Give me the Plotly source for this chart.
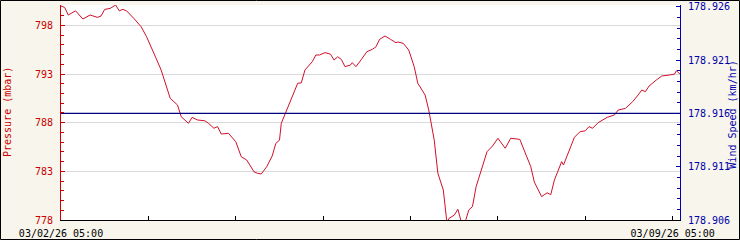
import pandas as pd
import plotly.graph_objects as go

# ---- data ----
start_time = "2026-03-02 05:00"
end_hours = 170

hours = [0, 1, 2, 4, 6, 8, 10, 11, 12, 13.5,
         15, 16, 17, 18, 20, 22, 23.5, 25, 26, 27.5,
         28.5, 30, 31, 32, 33, 35, 36, 37.5, 39.5, 40.5,
         42, 43, 44, 46, 48, 49.5, 51, 53, 54, 55,
         56.5, 58, 59, 60, 60.5, 62, 63.5, 65, 66, 67,
         69, 70, 71, 72.5, 74, 75, 76, 77, 78, 79.5,
         80, 81, 82.5, 84, 85.5, 86.5, 87.5, 89, 90.5, 92,
         92.5, 94, 95.5, 97, 98, 100, 101, 102.5, 103.5, 105,
         106, 106.5, 108, 109, 110, 111, 112, 113, 114, 115.5,
         117, 118.5, 120, 122, 123.5, 126, 127.5, 129, 130, 132,
         133.5, 134.5, 135.5, 137.5, 138, 139.5, 141, 142.5, 144, 145,
         146, 147.5, 150, 152, 153, 155, 157, 158.5, 159.5, 160.5,
         161.5, 163.5, 165, 167, 168.5, 169, 170]

pressure = [800.0, 799.85, 799.07, 799.5, 798.66, 799.07, 798.83, 798.97, 799.65, 799.75,
            800.1, 799.5, 799.65, 799.5, 798.73, 797.87, 796.84, 795.47, 794.72, 793.42,
            792.21, 790.5, 790.16, 789.82, 788.62, 787.94, 788.55, 788.28, 788.2, 787.94,
            787.43, 787.6, 786.84, 786.91, 786.05, 784.5, 784.17, 782.96, 782.8, 782.73,
            783.48, 784.58, 785.88, 786.2, 787.94, 789.3, 790.85, 792.05, 792.1, 793.42,
            794.27, 794.96, 794.96, 795.2, 795.05, 794.44, 794.78, 794.5, 793.76, 793.93,
            794.17, 793.76, 794.51, 795.3, 795.54, 795.8, 796.57, 796.91, 796.57, 796.22,
            796.3, 796.16, 795.47, 793.76, 792.05, 790.85, 789.3, 786.22, 782.8, 781.08,
            777.7, 778.15, 778.5, 779.1, 777.7, 777.8, 779.03, 779.37, 781.42, 783.14,
            785.02, 785.6, 786.4, 785.37, 786.4, 786.29, 784.85, 783.5, 781.9, 780.4,
            780.8, 780.6, 782.1, 784.0, 783.65, 785.0, 786.5, 787.07, 787.17, 787.6,
            787.43, 788.0, 788.55, 788.8, 789.3, 789.47, 790.16, 790.85, 791.36, 791.19,
            791.77, 792.39, 792.8, 792.9, 793.0, 793.34, 793.0]

wind_hours = [0, 170]
wind_speed = [178.916, 178.916]

x_tick_hours = [0, 24, 48, 72, 96, 120, 144, 168]
x_tick_text = ["03/02/26 05:00", "", "", "", "", "", "", "03/09/26 05:00"]

p_ticks = [778, 783, 788, 793, 798]
p_range = [778, 800.1]
w_ticks = [178.906, 178.911, 178.916, 178.921, 178.926]
w_tick_text = ["178.906", "178.911", "178.916", "178.921", "178.926"]
w_range = [178.906, 178.92617]

assert len(hours) == len(pressure)

# ---- build ----
start = pd.Timestamp(start_time)
t = [start + pd.Timedelta(hours=h) for h in hours]
wt = [start + pd.Timedelta(hours=h) for h in wind_hours]
xt = [start + pd.Timedelta(hours=h) for h in x_tick_hours]

RED = "#cc0000"
LINE_RED = "#d0102a"
BLUE = "#0000aa"
NAVY = "#000080"
FONT = "DejaVu Sans Mono"

fig = go.Figure()
fig.add_trace(go.Scatter(x=t, y=pressure, mode="lines",
                         line=dict(color=LINE_RED, width=1), yaxis="y",
                         hoverinfo="skip"))
fig.add_trace(go.Scatter(x=wt, y=wind_speed, mode="lines",
                         line=dict(color=NAVY, width=1.2), yaxis="y2",
                         hoverinfo="skip"))

W, H = 740, 240
L, R, T, B = 61, 60, 5, 20
pw, ph = W - L - R, H - T - B

fig.update_layout(
    width=W, height=H,
    margin=dict(l=L, r=R, t=T, b=B, pad=0, autoexpand=False),
    paper_bgcolor="#f7f5ec",
    plot_bgcolor="white",
    showlegend=False,
    font=dict(family=FONT, size=10, color="black"),
    xaxis=dict(
        type="date", automargin=False,
        range=[start, start + pd.Timedelta(hours=end_hours)],
        tickvals=xt, ticktext=x_tick_text,
        ticks="inside", ticklen=4, tickcolor="black", tickwidth=1,
        showline=True, linecolor="black", linewidth=1,
        showgrid=False, zeroline=False,
        tickfont=dict(family=FONT, size=10, color="black"),
        ticklabelstandoff=4,
    ),
    yaxis=dict(
        range=p_range, automargin=False,
        tickvals=p_ticks,
        ticks="inside", ticklen=4, tickcolor=RED, tickwidth=1,
        showline=True, linecolor=RED, linewidth=1,
        showgrid=True, gridcolor="#d9d9d9", gridwidth=1,
        zeroline=False,
        tickfont=dict(family=FONT, size=10, color=RED),
        ticklabelstandoff=5,
        minor=dict(tick0=778, dtick=1, ticks="inside", ticklen=3,
                   tickcolor=RED, showgrid=False),
    ),
    yaxis2=dict(
        overlaying="y", side="right", automargin=False,
        range=w_range,
        tickvals=w_ticks, ticktext=w_tick_text,
        ticks="inside", ticklen=4, tickcolor=BLUE, tickwidth=1,
        showline=True, linecolor=BLUE, linewidth=1,
        showgrid=False, zeroline=False,
        tickfont=dict(family=FONT, size=10, color=BLUE),
        ticklabelstandoff=5,
        minor=dict(tick0=178.906, dtick=0.001, ticks="inside", ticklen=3,
                   tickcolor=BLUE, showgrid=False),
    ),
    annotations=[
        dict(text="Pressure (mbar)", textangle=-90, xref="paper", yref="paper",
             x=(7.5 - L) / pw, y=0.5, xanchor="center", yanchor="middle",
             showarrow=False, font=dict(family=FONT, size=10, color=RED)),
        dict(text="Wind Speed (km/hr)", textangle=-90, xref="paper", yref="paper",
             x=(733 - L) / pw, y=0.49, xanchor="center", yanchor="middle",
             showarrow=False, font=dict(family=FONT, size=10, color=BLUE)),
    ],
    shapes=[
        dict(type="rect", xref="paper", yref="paper",
             x0=(0.5 - L) / pw, x1=(W - 0.5 - L) / pw,
             y0=-(B - 0.5) / ph, y1=1 + (T - 0.5) / ph,
             line=dict(color="black", width=1), fillcolor="rgba(0,0,0,0)",
             layer="above"),
    ],
)

fig.write_html("out.html")
